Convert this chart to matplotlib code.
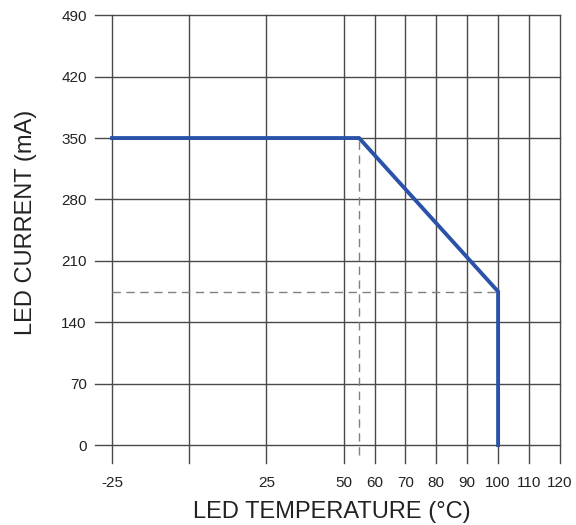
import matplotlib
matplotlib.use("Agg")
import matplotlib.pyplot as plt

plt.rcParams['font.family'] = ['Liberation Sans', 'DejaVu Sans']

# derating curve
temp = [-25, 55, 100, 100]
current = [350, 350, 175, 0]

x_grid = [-25, 0, 25, 50, 60, 70, 80, 90, 100, 110, 120]
x_labels = [-25, 25, 50, 60, 70, 80, 90, 100, 110, 120]
y_ticks = [0, 70, 140, 210, 280, 350, 420, 490]

knee_t = 55
end_t, end_i = 100, 175

fig = plt.figure(figsize=(5.76, 5.25), dpi=100)
ax = fig.add_axes([0.165, 0.118, 0.807, 0.853])
xmin, xmax = -30.5, 120
ymin, ymax = -20.5, 490
ax.set_xlim(xmin, xmax)
ax.set_ylim(ymin, ymax)
for s in ax.spines.values():
    s.set_visible(False)

grid_c = '#4a4a4a'
for y in y_ticks:
    ax.plot([xmin, xmax], [y, y], color=grid_c, lw=1.0, zorder=1, clip_on=False)
for x in x_grid:
    ax.plot([x, x], [ymin, ymax], color=grid_c, lw=1.0, zorder=1, clip_on=False)

# guide lines
ax.plot([knee_t, knee_t], [-11, 350], color='#808080', lw=1.0, ls=(0, (6, 4)), zorder=2)
ax.plot([-25, end_t], [end_i, end_i], color='#808080', lw=1.0, ls=(0, (6, 4)), zorder=2)

ax.plot(temp, current, color='#2a52a8', lw=2.8, solid_joinstyle='miter', zorder=3)

ax.set_xticks(x_labels)
ax.set_xticklabels([str(v) for v in x_labels])
ax.set_yticks(y_ticks)
ax.set_yticklabels([str(v) for v in y_ticks])
ax.tick_params(length=0, labelsize=11, colors='#222222')
ax.tick_params(axis='y', pad=6)
ax.tick_params(axis='x', pad=9)

ax.set_xlabel('LED TEMPERATURE (°C)', fontsize=17, color='#222222')
ax.set_ylabel('LED CURRENT (mA)', fontsize=17, color='#222222')
ax.xaxis.set_label_coords(0.51, -0.085)
ax.yaxis.set_label_coords(-0.125, 0.538)

fig.savefig('out.png', dpi=100)
